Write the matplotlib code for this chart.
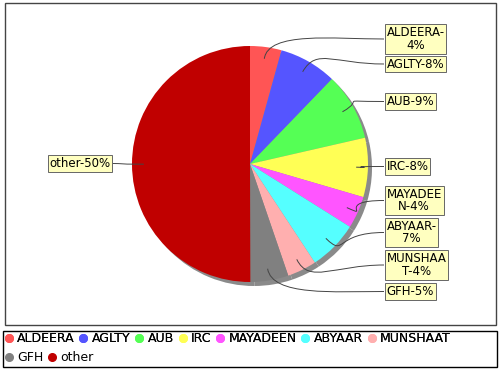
import numpy as np
import matplotlib.pyplot as plt
from matplotlib.path import Path
from matplotlib.patches import PathPatch, Rectangle
from matplotlib.lines import Line2D

# data
names = ["ALDEERA", "AGLTY", "AUB", "IRC", "MAYADEEN", "ABYAAR", "MUNSHAAT", "GFH", "other"]
shares = [4.3, 7.9, 9.2, 8.1, 4.4, 6.8, 4.0, 5.2, 50.0]
label_text = ["ALDEERA-\n4%", "AGLTY-8%", "AUB-9%", "IRC-8%", "MAYADEE\nN-4%",
              "ABYAAR-\n7%", "MUNSHAA\nT-4%", "GFH-5%", "other-50%"]
colors = ["#FF5555", "#5555FF", "#55FF55", "#FFFF55", "#FF55FF",
          "#55FFFF", "#FFAFAF", "#808080", "#C00000"]

# label box layout (pixel coords, y measured from top)
label_y = [39, 64, 101.5, 166.5, 200.5, 232.5, 265, 291.5, 163.5]
right_x = 384
left_x = 113

W, H = 500, 370
fig = plt.figure(figsize=(5, 3.7), dpi=100)
ax = fig.add_axes([0, 0, 1, 1])

fs = 8.5
cx, cy, R = 250, H - 164, 118

# shadow then pie
ax.pie(shares, colors=["#8a8a8a"] * len(shares), startangle=90, counterclock=False,
       center=(cx + 4, cy - 4), radius=R, frame=True,
       wedgeprops=dict(linewidth=0))
wedges, _ = ax.pie(shares, colors=colors, startangle=90, counterclock=False,
                   center=(cx, cy), radius=R, frame=True,
                   wedgeprops=dict(linewidth=0))
ax.set_xlim(0, W)
ax.set_ylim(0, H)
ax.set_aspect("equal")
ax.axis("off")

# chart border
ax.add_patch(Rectangle((5, H - 325), 491, 322, fill=False, ec="#444444", lw=1))

for w, txt, ly in zip(wedges, label_text, label_y):
    mid = np.deg2rad((w.theta1 + w.theta2) / 2)
    ux, uy = np.cos(mid), np.sin(mid)
    ax_pt = (cx + 0.9 * R * ux, cy + 0.9 * R * uy)
    ty = H - ly
    if ux >= 0:
        tx = right_x
        c2 = (tx - 50, ty)
        ha = "left"
        tpos = tx + 2.5
    else:
        tx = left_x
        c2 = (tx + 10, ty)
        ha = "right"
        tpos = tx - 2.5
    c1 = (ax_pt[0] + 28 * ux, ax_pt[1] + 28 * uy)
    p = Path([ax_pt, c1, c2, (tx, ty)], [Path.MOVETO, Path.CURVE4, Path.CURVE4, Path.CURVE4])
    ax.add_patch(PathPatch(p, fc="none", ec="#444444", lw=0.7))
    ax.text(tpos, ty, txt, ha=ha, va="center", multialignment="center",
            fontsize=fs, color="black", linespacing=0.95,
            bbox=dict(boxstyle="square,pad=0.15", fc="#FFFFC0", ec="#666666", lw=0.7))

# legend in two flowing rows inside a box
handles = [Line2D([], [], marker="o", ls="none", ms=5.5, mfc=c, mec=c) for c in colors]
leg_kw = dict(loc="upper left", frameon=False, fontsize=9, handlelength=0.5,
              handletextpad=0.42, columnspacing=0.45, borderaxespad=0, borderpad=0.2)
leg1 = fig.legend(handles[:7], names[:7], ncol=7,
                  bbox_to_anchor=(3 / W, 1 - 330 / H), **leg_kw)
fig.add_artist(leg1)
fig.legend(handles[7:], names[7:], ncol=2,
           bbox_to_anchor=(3 / W, 1 - 348.5 / H), **leg_kw)
ax.add_patch(Rectangle((3, H - 367), 494, 36, fill=False, ec="black", lw=1))

fig.savefig("out.png", dpi=100)
